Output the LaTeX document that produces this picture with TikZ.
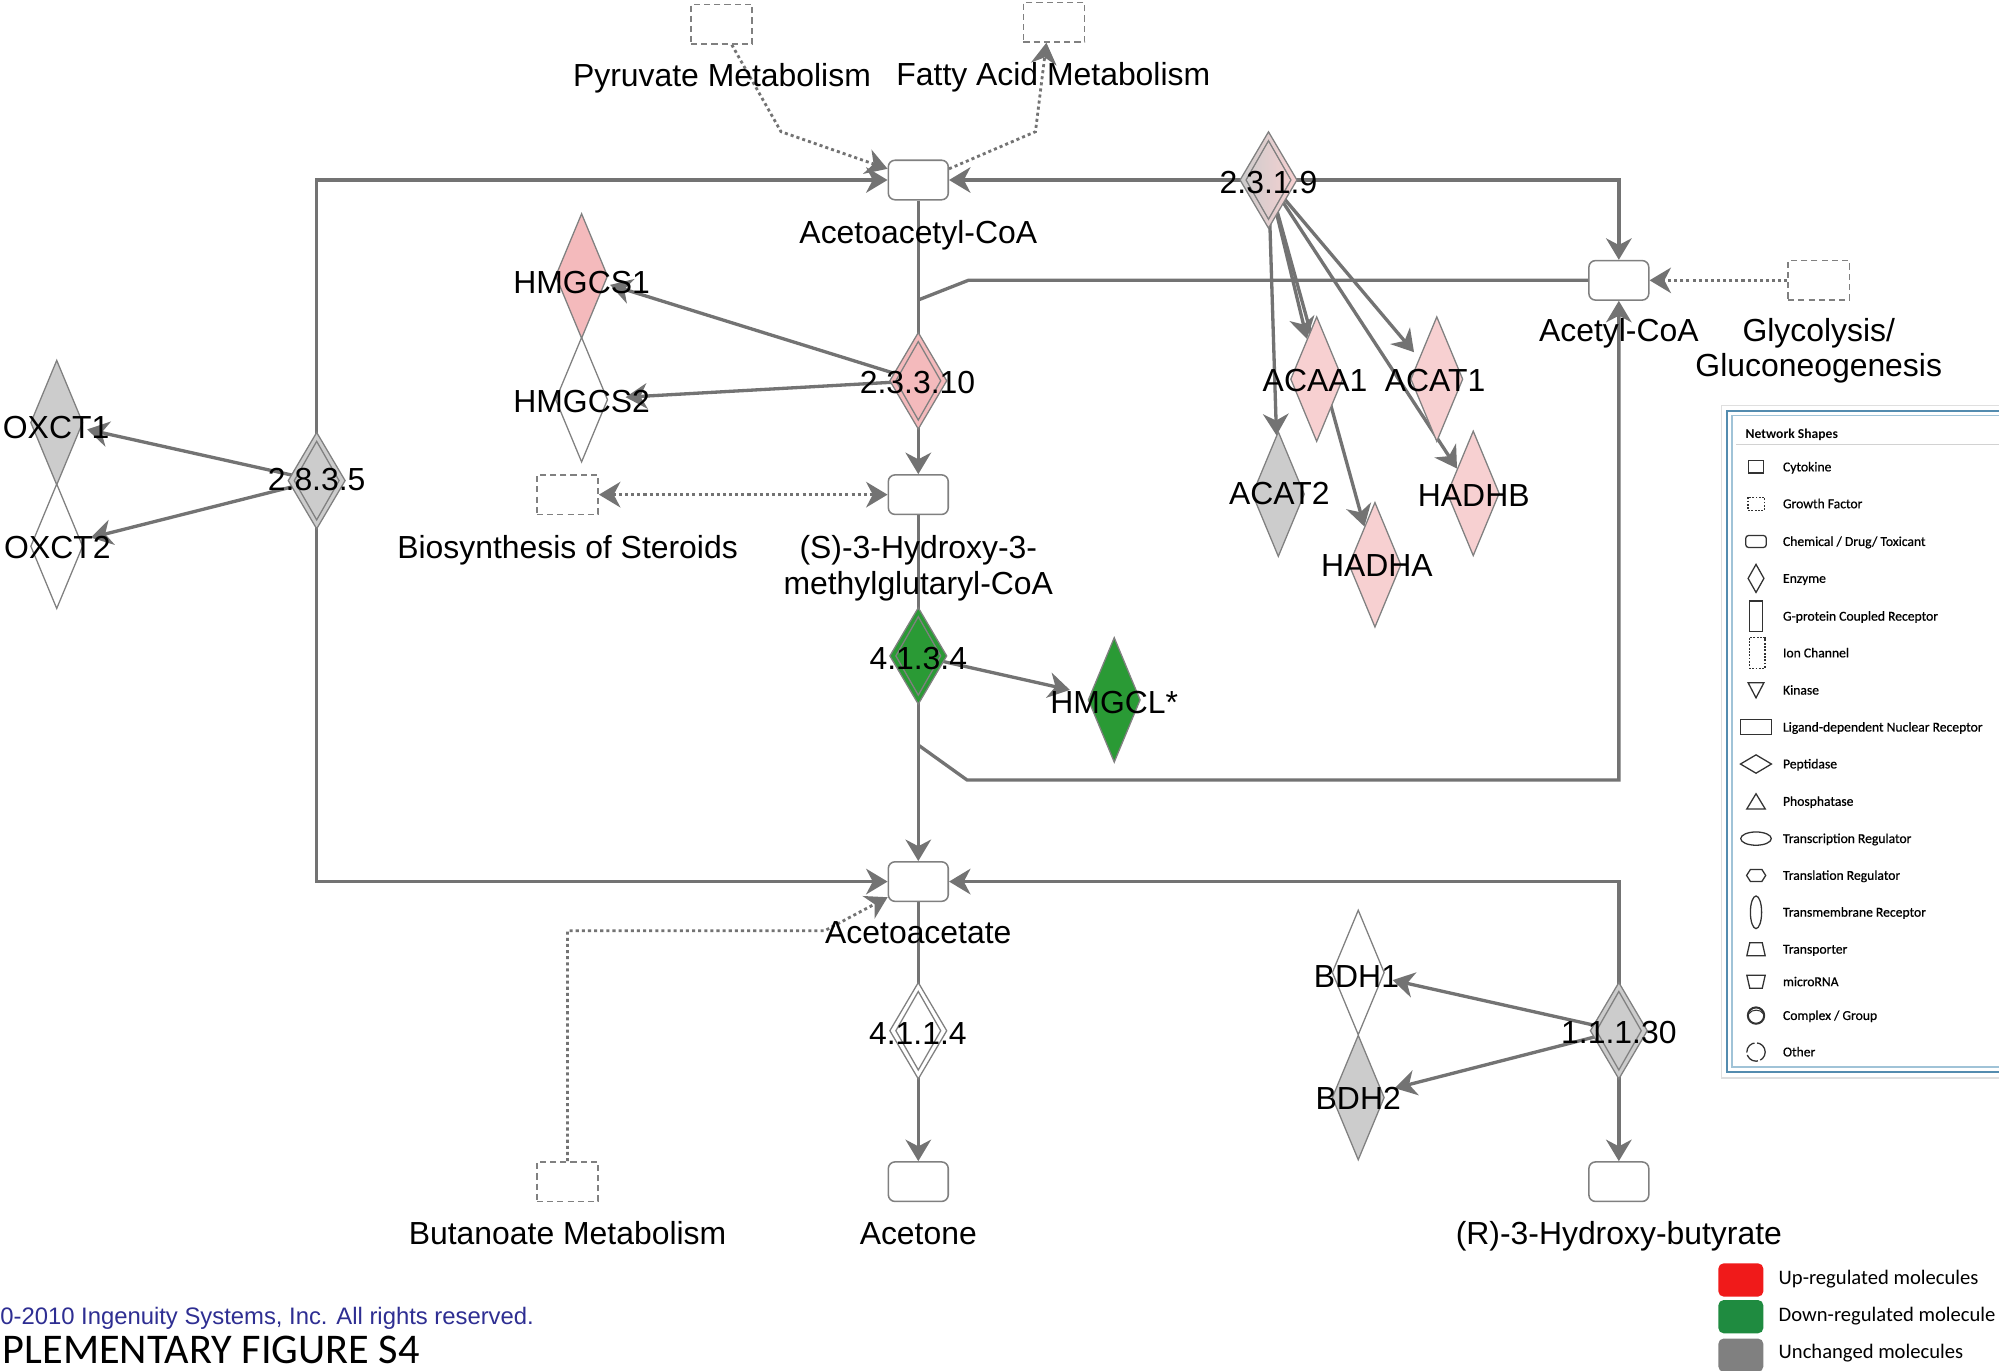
\documentclass[tikz,border=0pt]{standalone}
\usepackage{fontspec}
\setmainfont{Liberation Sans}
\newfontfamily\calibri{Carlito}
\newfontfamily\calibrikey{Carlito}[FakeBold=0.6]
\usetikzlibrary{shapes.geometric,arrows.meta}
\pgfdeclarelayer{paper}
\pgfdeclarelayer{bg}
\pgfsetlayers{paper,bg,main}

\definecolor{edgegray}{RGB}{115,115,115}
\definecolor{outline}{RGB}{128,128,128}
\definecolor{upfill}{RGB}{244,186,188}
\definecolor{uplight}{RGB}{247,208,209}
\definecolor{nochange}{RGB}{204,204,204}
\definecolor{downfill}{RGB}{42,154,53}
\definecolor{copyblue}{RGB}{46,46,146}
\definecolor{framedark}{RGB}{84,140,175}
\definecolor{framelight}{RGB}{160,195,215}
\definecolor{legred}{RGB}{240,26,26}
\definecolor{leggreen}{RGB}{31,139,64}
\definecolor{leggray}{RGB}{128,128,128}
\definecolor{iconline}{RGB}{50,50,50}

\tikzset{
  chem/.style={draw=outline, line width=0.3mm, fill=white, rounded corners=1.3mm,
    minimum width=11.75mm, minimum height=7.75mm, inner sep=0pt},
  func/.style={draw=outline, line width=0.3mm, dash pattern=on 1.2mm off 0.8mm,
    minimum width=12mm, minimum height=7.75mm, inner sep=0pt},
  gene/.style={diamond, draw=outline, line width=0.25mm, minimum width=10.25mm,
    minimum height=24.5mm, inner sep=0pt},
  ec/.style={diamond, draw=outline, line width=0.25mm, minimum width=11.25mm,
    minimum height=19mm, inner sep=0pt},
  ecin/.style={diamond, draw=outline, line width=0.25mm, minimum width=8.9mm,
    minimum height=15.5mm, inner sep=0pt},
  lab/.style={font=\fontsize{17.8}{20}\selectfont, inner sep=0pt,
    text height=12.7pt, text depth=0pt},
  edge/.style={draw=edgegray, line width=0.65mm},
  arr/.style={edge, arrows={-Stealth[length=4.2mm, width=5mm, inset=1.3mm]}},
  dots/.style={draw=edgegray, line width=0.55mm, dash pattern=on 0.6mm off 0.6mm,
    arrows={-Stealth[length=4.2mm, width=5mm, inset=1.3mm]}},
  dotsboth/.style={dots, arrows={Stealth[length=4.2mm, width=5mm, inset=1.3mm]-Stealth[length=4.2mm, width=5mm, inset=1.3mm]}},
  icon/.style={draw=iconline, line width=0.25mm},
  legtxt/.style={anchor=west, inner sep=0pt, font=\calibrikey\fontsize{7.6}{9}\selectfont,
    text height=4.9pt, text depth=0pt},
  keytxt/.style={anchor=west, inner sep=0pt, font=\calibri\fontsize{11.5}{13}\selectfont,
    text height=7.4pt, text depth=0pt},
  keybox/.style={rounded corners=1mm, minimum width=8.8mm, minimum height=6.5mm, inner sep=0pt},
}

\begin{document}
\begin{tikzpicture}[x=0.25mm, y=-0.25mm]
\begin{pgfonlayer}{paper}
  \fill[white] (0,0) rectangle (1568,1075);
\end{pgfonlayer}
\useasboundingbox (0,0) rectangle (1568,1075);

% ---------- chemicals ----------
\node[chem] (acac) at (720.3,141.2) {};
\node[chem] (hmgcoa) at (720.3,388) {};
\node[chem] (accoa) at (1269.8,219.9) {};
\node[chem] (acetoacetate) at (720.3,691.5) {};
\node[chem] (acetone) at (720.3,926.9) {};
\node[chem] (r3hb) at (1269.8,926.9) {};

% ---------- pathway links ----------
\node[func] (pyr) at (566,19) {};
\node[func] (fa) at (826.8,17.4) {};
\node[func] (glyc) at (1426.6,219.9) {};
\node[func] (ster) at (445.2,388) {};
\node[func] (buta) at (445.2,926.9) {};

% ---------- enzyme classes ----------
\node[ec, left color=nochange, right color=uplight] (ec231) at (995,141.2) {};
\node[ecin] (ec231i) at (ec231) {};
\node[ec, fill=upfill] (ec23310) at (720.3,298.7) {};
\node[ecin] (ec23310i) at (ec23310) {};
\node[ec, fill=downfill] (ec4134) at (720.3,514.5) {};
\node[ecin] (ec4134i) at (ec4134) {};
\node[ec, fill=white] (ec4114) at (720.3,808.5) {};
\node[ecin] (ec4114i) at (ec4114) {};
\node[ec, fill=nochange] (ec2835) at (248.4,377) {};
\node[ecin] (ec2835i) at (ec2835) {};
\node[ec, fill=nochange] (ec11130) at (1269.8,808.5) {};
\node[ecin] (ec11130i) at (ec11130) {};

% ---------- genes ----------
\node[gene, fill=upfill] (hmgcs1) at (456.2,216.5) {};
\node[gene, fill=white] (hmgcs2) at (456.2,313.5) {};
\node[gene, fill=nochange] (oxct1) at (44.5,331.5) {};
\node[gene, fill=white] (oxct2) at (44.5,428.5) {};
\node[gene, fill=uplight] (acaa1) at (1032.8,297.4) {};
\node[gene, fill=uplight] (acat1) at (1127,297.4) {};
\node[gene, fill=nochange] (acat2) at (1002.7,387.6) {};
\node[gene, fill=uplight] (hadhb) at (1155.6,387) {};
\node[gene, fill=uplight] (hadha) at (1078.5,443) {};
\node[gene, fill=downfill] (hmgcl) at (874,549) {};
\node[gene, fill=white] (bdh1) at (1065.4,762.8) {};
\node[gene, fill=nochange] (bdh2) at (1065.4,860.9) {};

% ---------- connectors ----------
\begin{pgfonlayer}{bg}
  \draw[arr] (ec2835.center) |- (acac.west);
  \draw[arr] (ec2835.center) |- (acetoacetate.west);
  \draw[arr] (ec231.center) -- (acac.east);
  \draw[arr] (ec231.center) -| (accoa.north);
  \draw[edge] (acac.south) -- (ec23310.center);
  \draw[arr] (ec23310.center) -- (hmgcoa.north);
  \coordinate (j1) at (720.3,235.3);
  \coordinate (j1b) at (759.5,219.9);
  \draw[edge] (j1) -- (j1b) -- (accoa.west);
  \draw[edge] (hmgcoa.south) -- (ec4134.center);
  \draw[arr] (ec4134.center) -- (acetoacetate.north);
  \coordinate (j2) at (720.3,584.4);
  \coordinate (j2b) at (758.5,611.8);
  \draw[arr] (j2) -- (j2b) -| (accoa.south);
  \draw[edge] (acetoacetate.south) -- (ec4114.center);
  \draw[arr] (ec4114.center) -- (acetone.north);
  \draw[arr] (ec11130.center) |- (acetoacetate.east);
  \draw[arr] (ec11130.center) -- (r3hb.north);

  \draw[arr, shorten >=1mm] (ec23310.center) -- (hmgcs1);
  \draw[arr, shorten >=3.5mm] (ec23310.center) -- (hmgcs2);
  \draw[arr, shorten >=1.2mm] (ec2835.center) -- (oxct1);
  \draw[arr, shorten >=2mm] (ec2835.center) -- (oxct2);
  \draw[arr, shorten >=4mm] (ec4134.center) -- (hmgcl);
  \draw[arr, shorten >=2mm] (ec11130.center) -- (bdh1);
  \draw[arr, shorten >=2.5mm] (ec11130.center) -- (bdh2);
  \draw[arr] (ec231.center) -- (acat2);
  \draw[arr] (ec231.center) -- (acaa1);
  \draw[arr] (ec231.center) -- (hadha);
  \draw[arr, shorten >=1.5mm] (ec231.center) -- (acat1);
  \draw[arr] (ec231.center) -- (hadhb);

  \coordinate (p1) at (612.6,103.3);
  \draw[dots] ([xshift=2mm]pyr.south) -- (p1) -- (acac.160);
  \coordinate (f1) at (812.2,103.3);
  \draw[dots] (acac.20) -- (f1) -- ([xshift=-1.5mm]fa.south);
  \draw[dots] (glyc.west) -- (accoa.east);
  \draw[dotsboth] (ster.east) -- (hmgcoa.west);
  \coordinate (b1) at (445.2,730);
  \coordinate (b2) at (647,730);
  \draw[dots] (buta.north) -- (b1) -- (b2) -- (acetoacetate.207);
\end{pgfonlayer}

% ---------- labels ----------
\node[lab] (t-pyr) at (566.3,58.8) {Pyruvate Metabolism};
\node[lab] (t-fa) at (826.2,58.3) {Fatty Acid Metabolism};
\node[lab] (t-acac) at (720.3,182) {Acetoacetyl-CoA};
\node[lab] (t-hmg1) at (720.3,428.8) {(S)-3-Hydroxy-3-};
\node[lab] (t-hmg2) at (720.3,457.5) {methylglutaryl-CoA};
\node[lab] (t-ster) at (445.2,428.8) {Biosynthesis of Steroids};
\node[lab] (t-accoa) at (1269.8,258.8) {Acetyl-CoA};
\node[lab] (t-glyc1) at (1426.6,258.8) {Glycolysis/};
\node[lab] (t-glyc2) at (1426.6,286.3) {Gluconeogenesis};
\node[lab] (t-aa) at (720.3,730.8) {Acetoacetate};
\node[lab] (t-acetone) at (720.3,967.3) {Acetone};
\node[lab] (t-buta) at (445.2,967.3) {Butanoate Metabolism};
\node[lab] (t-r3hb) at (1269.8,967.4) {(R)-3-Hydroxy-butyrate};

\node[lab] (t-ec231) at (995,142.5) {2.3.1.9};
\node[lab] (t-ec23310) at (719.7,299.4) {2.3.3.10};
\node[lab] (t-ec4134) at (720.3,516.4) {4.1.3.4};
\node[lab] (t-ec4114) at (720,810.5) {4.1.1.4};
\node[lab] (t-ec2835) at (248.4,376) {2.8.3.5};
\node[lab] (t-ec11130) at (1269.8,809.2) {1.1.1.30};

\node[lab] (t-hmgcs1) at (456.2,221) {HMGCS1};
\node[lab] (t-hmgcs2) at (456.2,315) {HMGCS2};
\node[lab] (t-oxct1) at (44,334.7) {OXCT1};
\node[lab] (t-oxct2) at (45,428.8) {OXCT2};
\node[lab] (t-acaa1) at (1031.5,298) {ACAA1};
\node[lab] (t-acat1) at (1125.7,298) {ACAT1};
\node[lab] (t-acat2) at (1003.5,387) {ACAT2};
\node[lab] (t-hadhb) at (1156,388.3) {HADHB};
\node[lab] (t-hadha) at (1080,443.2) {HADHA};
\node[lab] (t-hmgcl) at (874,550.4) {HMGCL*};
\node[lab] (t-bdh1) at (1064,766) {BDH1};
\node[lab] (t-bdh2) at (1065.4,861.5) {BDH2};

% ---------- shape key ----------
\draw[gray!25, line width=0.3mm] (1350.5,318) rectangle (1580,845.5);
\draw[framedark, line width=0.4mm] (1355,322.5) rectangle (1580,840.5);
\draw[framelight, line width=0.35mm] (1358.5,326) rectangle (1580,837);
\draw[gray!35, line width=0.2mm] (1362,349) -- (1568,349);
\node[legtxt, font=\calibri\bfseries\fontsize{7.6}{9}\selectfont] (k-title) at (1369,340.8) {Network Shapes};

\draw[icon] (1371.5,361.5) rectangle (1383.3,371);
\draw[icon, dash pattern=on 0.35mm off 0.3mm] (1371,390) rectangle (1384,400.2);
\draw[icon, rounded corners=0.6mm] (1369.3,420) rectangle (1385.5,429.5);
\draw[icon] (1377.4,442.7) -- (1383.6,453.7) -- (1377.4,464.7) -- (1371.2,453.7) -- cycle;
\draw[icon] (1372.2,471.5) rectangle (1382.7,495.3);
\draw[icon, dash pattern=on 0.35mm off 0.3mm] (1372.2,500.3) rectangle (1384.5,524.1);
\draw[icon] (1371.2,535.5) -- (1383.6,535.5) -- (1377.4,547.4) -- cycle;
\draw[icon] (1365.2,564.5) rectangle (1389.5,576.4);
\draw[icon] (1365.2,599.3) -- (1377.4,592.1) -- (1389.5,599.3) -- (1377.4,606.5) -- cycle;
\draw[icon] (1377.4,622.6) -- (1384.6,634.5) -- (1370.2,634.5) -- cycle;
\draw[icon] (1377.4,657.8) ellipse [x radius=3mm, y radius=1.3mm];
\draw[icon] (1370,686.7) -- (1373,682) -- (1382,682) -- (1385,686.7) -- (1382,691.4) -- (1373,691.4) -- cycle;
\draw[icon] (1377.4,715.6) ellipse [x radius=1.1mm, y radius=3.2mm];
\draw[icon] (1370.2,749.7) -- (1372.5,739.5) -- (1382.3,739.5) -- (1384.6,749.7) -- cycle;
\draw[icon] (1370.2,765) -- (1384.6,765) -- (1382.3,775.2) -- (1372.5,775.2) -- cycle;
\draw[icon, line width=0.4mm] (1377.4,796.6) circle [radius=1.6mm];
\draw[icon, line width=0.2mm] (1372,795) .. controls (1374,791.5) and (1381,791.5) .. (1383,795);
\draw[icon, dash pattern=on 2.6mm off 0.5mm] (1377.4,825.2) circle [radius=1.8mm];

\foreach \yy/\txt [count=\i] in {366.3/Cytokine, 395.2/Growth Factor,
    424.8/{Chemical / Drug/ Toxicant}, 453.7/Enzyme, 483.4/G-protein Coupled Receptor,
    512.2/Ion Channel, 541.4/Kinase, 570.4/Ligand-dependent Nuclear Receptor,
    599.3/Peptidase, 628.6/Phosphatase, 657.8/Transcription Regulator,
    686.7/Translation Regulator, 715.6/Transmembrane Receptor, 744.6/Transporter,
    770.1/microRNA, 796.6/{Complex / Group}, 825.2/Other}
  \node[legtxt] (k-\i) at (1398.3,\yy) {\txt};

% ---------- colour key ----------
\node[keybox, fill=legred] (c-up) at (1365.5,1004) {};
\node[keybox, fill=leggreen] (c-down) at (1365.5,1032.8) {};
\node[keybox, fill=leggray] (c-same) at (1365.5,1063) {};
\node[keytxt] (c-uptxt) at (1394.9,1002.7) {Up-regulated molecules};
\node[keytxt] (c-downtxt) at (1394.9,1031.5) {Down-regulated molecule};
\node[keytxt] (c-sametxt) at (1394.9,1060.2) {Unchanged molecules};

% ---------- footer ----------
\node[anchor=west, inner sep=0pt, text=copyblue, font=\fontsize{13.3}{15}\selectfont,
  text height=9.5pt, text depth=0pt] (copyr) at (0,1032) {0-2010 Ingenuity Systems, Inc. All rights reserved.};
\node[anchor=base west, inner sep=0pt, font=\calibri\fontsize{23.6}{28}\selectfont] (figtitle) at (2,1069.5) {PLEMENTARY FIGURE S4};
\end{tikzpicture}
\end{document}
